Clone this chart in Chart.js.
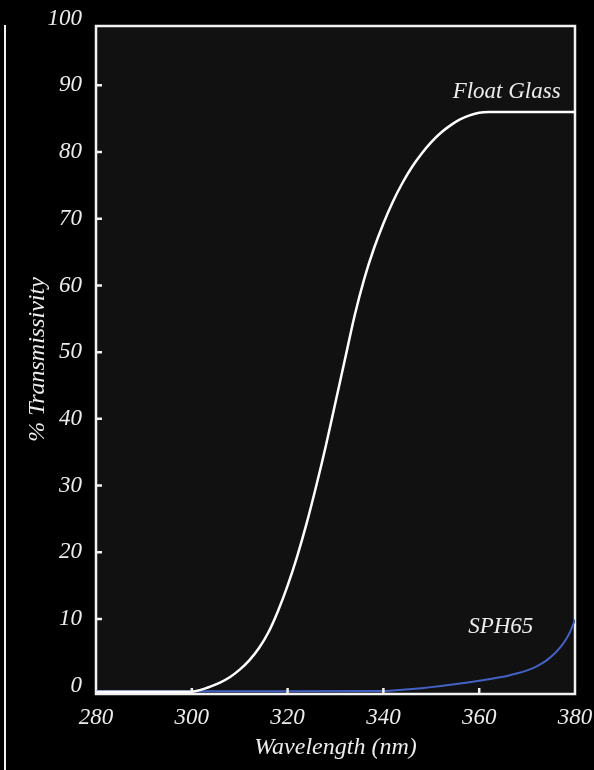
<!DOCTYPE html>
<html>
<head>
<meta charset="utf-8">
<script src="https://cdn.jsdelivr.net/npm/chart.js@4.4.1/dist/chart.umd.min.js"></script>
<style>
    html, body { margin: 0; padding: 0; background: #000; }
    #wrap { width: 594px; height: 770px; }
</style>
</head>
<body>
<div id="wrap"><canvas id="transChart" width="594" height="770"></canvas></div>
<script>
// Float glass transmission curve (wavelength nm / % transmissivity)
const glassNm = [280, 290, 300, 302, 304, 306, 308, 310, 312, 314, 316, 318, 320, 322, 324, 326, 328, 330,
    332, 334, 336, 338, 340, 342, 344, 346, 348, 350, 352, 354, 356, 358, 360, 362, 370, 380];
const glassPct = [-0.9, -0.9, -0.9, -0.6, -0.1, 0.5, 1.3, 2.4, 3.8, 5.6, 8.0, 11.2, 15.0, 19.4, 24.4, 30.0, 36.0, 42.5,
    49.0, 55.5, 61.0, 65.5, 69.3, 72.6, 75.4, 77.8, 79.8, 81.5, 82.9, 84.0, 84.9, 85.5, 85.9, 86.0, 86.0, 86.0];

// SPH65 curve
const sphNm = [280, 300, 320, 340, 342, 344, 346, 348, 350, 352, 354, 356, 358, 360, 362, 364, 366, 368, 370,
    372, 374, 376, 377, 378, 379, 380];
const sphPct = [-0.85, -0.85, -0.83, -0.8, -0.72, -0.62, -0.5, -0.37, -0.22, -0.05, 0.13, 0.32, 0.52, 0.73, 0.96,
    1.21, 1.5, 1.85, 2.3, 2.9, 3.75, 5.0, 5.8, 6.8, 8.1, 9.9];

const xTicks = [280, 300, 320, 340, 360, 380];
const yTicks = [0, 10, 20, 30, 40, 50, 60, 70, 80, 90, 100];

const seriesLabels = ['Float Glass', 'SPH65'];

const serif = '"Liberation Serif", "Times New Roman", serif';
const textColor = '#ececec';

function toPoints(xs, ys) {
    return xs.map((x, i) => ({ x: x, y: ys[i] }));
}

const framePlugin = {
    id: 'frame',
    beforeDraw(chart) {
        const { ctx, chartArea: a } = chart;
        ctx.save();
        ctx.fillStyle = '#000';
        ctx.fillRect(0, 0, chart.width, chart.height);
        ctx.fillStyle = '#111111';
        ctx.fillRect(a.left, a.top, a.right - a.left, a.bottom - a.top);
        ctx.restore();
    },
    beforeDatasetsDraw(chart) {
        const { ctx, chartArea: a } = chart;
        ctx.save();
        ctx.strokeStyle = '#f2f2f2';
        ctx.lineWidth = 2.5;
        ctx.strokeRect(a.left, a.top, a.right - a.left, a.bottom - a.top + 1);
        ctx.restore();
    },
    afterDraw(chart) {
        const { ctx, chartArea: a } = chart;
        const xs = chart.scales.x;
        const ys = chart.scales.y;
        ctx.save();
        // inner tick marks
        ctx.strokeStyle = '#f2f2f2';
        ctx.lineWidth = 2.5;
        ctx.beginPath();
        yTicks.slice(1, -1).forEach(v => {
            const py = ys.getPixelForValue(v);
            ctx.moveTo(a.left, py);
            ctx.lineTo(a.left + 6, py);
        });
        xTicks.slice(1, -1).forEach(v => {
            const px = xs.getPixelForValue(v);
            ctx.moveTo(px, a.bottom + 1);
            ctx.lineTo(px, a.bottom - 5);
        });
        ctx.stroke();

        // side rule at far left
        ctx.lineWidth = 2;
        ctx.beginPath();
        ctx.moveTo(5, 25);
        ctx.lineTo(5, chart.height);
        ctx.stroke();

        // series labels
        ctx.fillStyle = textColor;
        ctx.font = 'italic 23px ' + serif;
        ctx.textBaseline = 'alphabetic';
        ctx.textAlign = 'right';
        ctx.fillText(seriesLabels[0], xs.getPixelForValue(377), ys.getPixelForValue(88.1));
        ctx.textAlign = 'left';
        ctx.fillText(seriesLabels[1], xs.getPixelForValue(357.7), ys.getPixelForValue(7.9));
        ctx.restore();
    }
};

new Chart(document.getElementById('transChart'), {
    type: 'line',
    data: {
        datasets: [
            {
                label: seriesLabels[0],
                data: toPoints(glassNm, glassPct),
                borderColor: '#ffffff',
                borderWidth: 2.5,
                pointRadius: 0,
                cubicInterpolationMode: 'monotone',
                fill: false
            },
            {
                label: seriesLabels[1],
                data: toPoints(sphNm, sphPct),
                borderColor: '#4462c4',
                borderWidth: 2,
                pointRadius: 0,
                cubicInterpolationMode: 'monotone',
                fill: false
            }
        ]
    },
    options: {
        responsive: false,
        animation: false,
        layout: { padding: { top: 26, right: 19, left: 0, bottom: 0 } },
        plugins: {
            legend: { display: false },
            tooltip: { enabled: false }
        },
        scales: {
            x: {
                type: 'linear',
                min: 280,
                max: 380,
                grid: { display: false, drawTicks: false },
                border: { display: false },
                afterBuildTicks: scale => { scale.ticks = xTicks.map(v => ({ value: v })); },
                afterFit: scale => {
                    scale.height = 77;
                    scale.paddingLeft = 0;
                    scale.paddingRight = 0;
                },
                ticks: {
                    color: textColor,
                    padding: 11,
                    maxRotation: 0,
                    font: { family: serif, size: 23, style: 'italic' }
                },
                title: {
                    display: true,
                    text: 'Wavelength (nm)',
                    color: textColor,
                    padding: { top: 0, bottom: 8 },
                    font: { family: serif, size: 24, style: 'italic' }
                }
            },
            y: {
                type: 'linear',
                min: -1.1,
                max: 98.9,
                grid: { display: false, drawTicks: false },
                border: { display: false },
                afterBuildTicks: scale => { scale.ticks = yTicks.map(v => ({ value: v })); },
                afterFit: scale => {
                    scale.width = 96;
                    scale.paddingTop = 0;
                    scale.paddingBottom = 0;
                },
                ticks: {
                    color: textColor,
                    padding: 14,
                    autoSkip: false,
                    font: { family: serif, size: 23, style: 'italic' }
                },
                title: {
                    display: true,
                    text: '% Transmissivity',
                    color: textColor,
                    padding: { top: 23, bottom: 0 },
                    font: { family: serif, size: 24, style: 'italic' }
                }
            }
        }
    },
    plugins: [framePlugin]
});
</script>
</body>
</html>
